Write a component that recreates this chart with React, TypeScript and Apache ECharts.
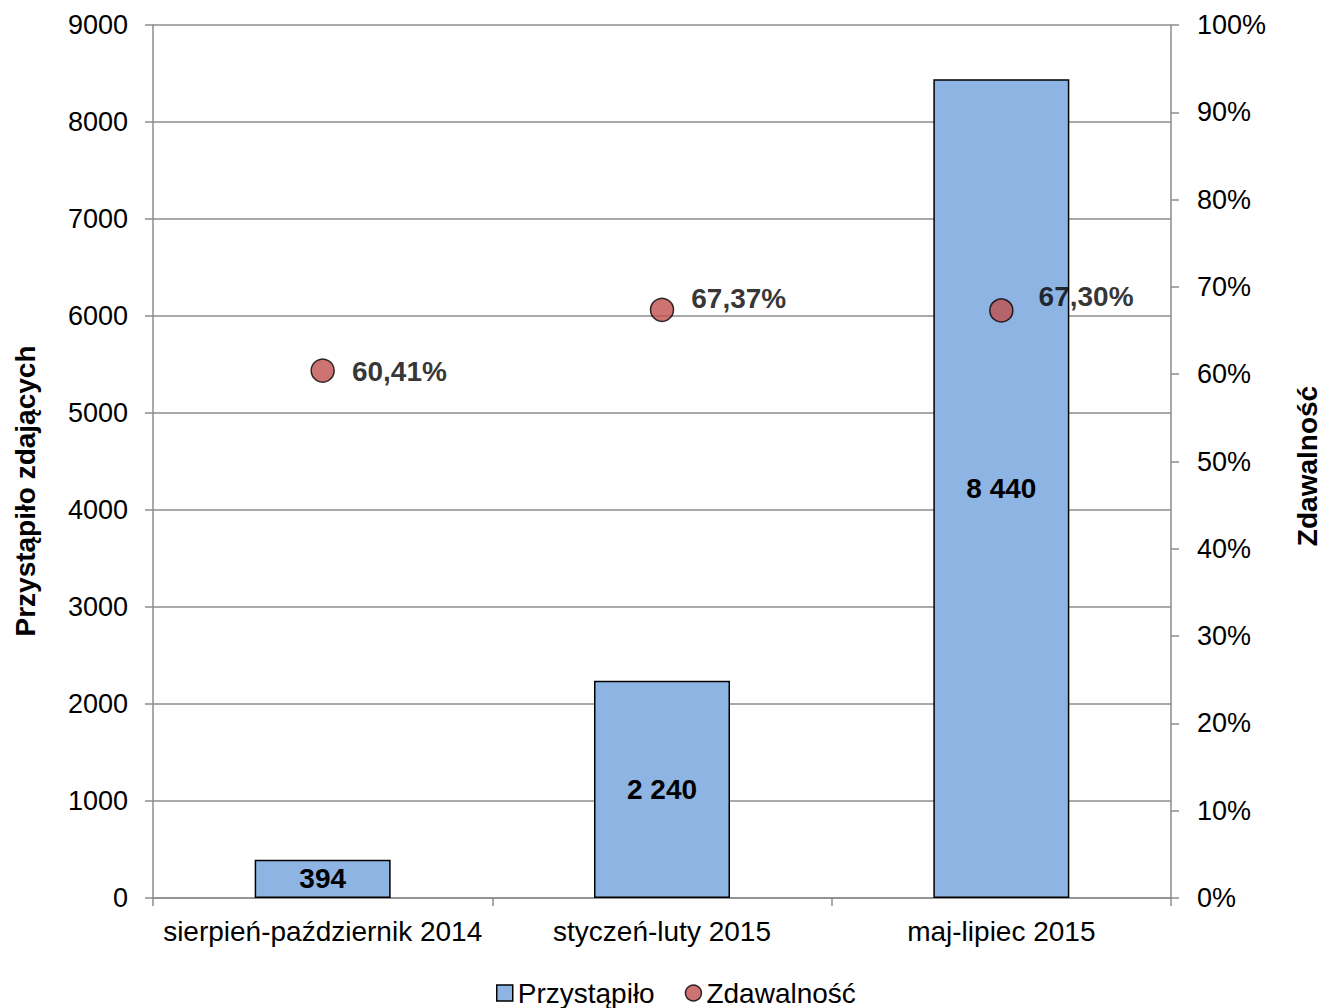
import React, { useEffect, useRef } from "react";
import * as echarts from "echarts";

const categories = ["sierpień-październik 2014", "styczeń-luty 2015", "maj-lipiec 2015"];
const przystapilo = [394, 2240, 8440];
const zdawalnosc = [60.41, 67.37, 67.3];
const leftTicks = { min: 0, max: 9000, interval: 1000 };
const rightTicks = { min: 0, max: 100, interval: 10 };
const leftTitle = "Przystąpiło zdających";
const rightTitle = "Zdawalność";

const FONT = "Liberation Sans, Arial, sans-serif";

function fmtThousands(v: number) {
  return String(v).replace(/\B(?=(\d{3})+(?!\d))/g, " ");
}
function fmtPct(v: number) {
  return v.toFixed(2).replace(".", ",") + "%";
}

export default function App() {
  const ref = useRef<HTMLDivElement>(null);
  useEffect(() => {
    document.body.style.margin = "0";
    document.body.style.overflow = "hidden";
    document.documentElement.style.overflow = "hidden";
    if (!ref.current) return;
    const chart = echarts.init(ref.current, undefined, { renderer: "svg" });
    const axisLineStyle = { color: "#8c8c8c", width: 1.5 };
    const labelOffsets = [[0, 1], [0, -11], [8, -14]];
    chart.setOption({
      animation: false,
      textStyle: { fontFamily: FONT },
      grid: { left: 153, right: 151, top: 25, bottom: 110, containLabel: false },
      legend: {
        top: 979,
        left: 496,
        padding: 0,
        itemGap: 30,
        itemWidth: 16,
        itemHeight: 16,
        itemStyle: { borderColor: "#000", borderWidth: 1.5 },
        textStyle: { fontFamily: FONT, fontSize: 28, color: "#000" },
        data: [
          { name: "Przystąpiło", icon: "rect" },
          { name: "Zdawalność", icon: "circle" },
        ],
      },
      graphic: [
        {
          type: "text",
          x: 25,
          y: 491,
          rotation: Math.PI / 2,
          style: {
            text: leftTitle,
            fontFamily: FONT,
            fontSize: 28,
            fontWeight: "bold",
            fill: "#000",
            align: "center",
            verticalAlign: "middle",
          },
        },
        {
          type: "text",
          x: 1307,
          y: 466,
          rotation: Math.PI / 2,
          style: {
            text: rightTitle,
            fontFamily: FONT,
            fontSize: 28,
            fontWeight: "bold",
            fill: "#000",
            align: "center",
            verticalAlign: "middle",
          },
        },
      ],
      xAxis: {
        type: "category",
        data: categories,
        axisLine: { show: true, lineStyle: axisLineStyle },
        axisTick: { show: true, length: 8, lineStyle: axisLineStyle, alignWithLabel: false },
        axisLabel: { fontFamily: FONT, fontSize: 28, color: "#000", margin: 19, interval: 0 },
      },
      yAxis: [
        {
          type: "value",
          min: leftTicks.min,
          max: leftTicks.max,
          interval: leftTicks.interval,
          axisLine: { show: true, lineStyle: axisLineStyle },
          axisTick: { show: true, length: 8, lineStyle: axisLineStyle },
          axisLabel: {
            fontFamily: FONT,
            fontSize: 27,
            color: "#000",
            margin: 25,
            formatter: (v: number) => String(v),
          },
          splitLine: { show: true, lineStyle: { color: "#8c8c8c", width: 1.5 } },
        },
        {
          type: "value",
          min: rightTicks.min,
          max: rightTicks.max,
          interval: rightTicks.interval,
          position: "right",
          axisLine: { show: true, lineStyle: axisLineStyle },
          axisTick: { show: true, length: 8, lineStyle: axisLineStyle },
          axisLabel: {
            fontFamily: FONT,
            fontSize: 27,
            color: "#000",
            margin: 26,
            formatter: (v: number) => `${v}%`,
          },
          splitLine: { show: false },
        },
      ],
      series: [
        {
          name: "Przystąpiło",
          type: "bar",
          yAxisIndex: 0,
          barWidth: 136,
          data: przystapilo,
          itemStyle: { color: "#8EB4E3", borderColor: "#000", borderWidth: 1.5 },
          label: {
            show: true,
            position: "inside",
            fontFamily: FONT,
            fontSize: 28,
            fontWeight: "bold",
            color: "#000",
            formatter: (p: any) => fmtThousands(p.value),
          },
        },
        {
          name: "Zdawalność",
          type: "scatter",
          yAxisIndex: 1,
          symbol: "circle",
          symbolSize: 23,
          data: zdawalnosc.map((v, i) => ({
            value: v,
            label: { offset: labelOffsets[i] },
          })),
          itemStyle: { color: "#C0504D", borderColor: "#000", borderWidth: 1.5 },
          label: {
            show: true,
            position: "right",
            distance: 17,
            fontFamily: FONT,
            fontSize: 28,
            fontWeight: "bold",
            color: "#000",
            formatter: (p: any) => fmtPct(p.value),
          },
          z: 5,
        },
      ],
    });
    return () => chart.dispose();
  }, []);
  return <div ref={ref} style={{ width: 1322, height: 1008 }} />;
}
